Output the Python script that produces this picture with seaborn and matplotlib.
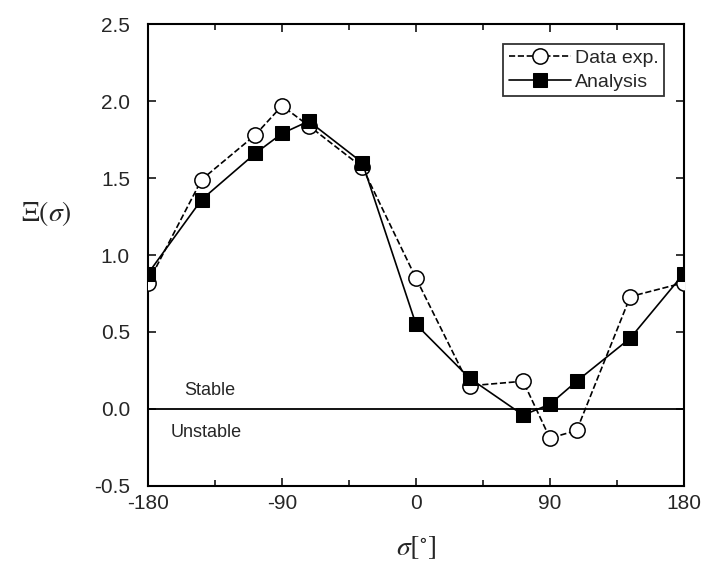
import numpy as np
import pandas as pd
import matplotlib
matplotlib.use("Agg")
import matplotlib.pyplot as plt
import seaborn as sns
from matplotlib.ticker import MultipleLocator, FormatStrFormatter

# data
sigma = [-180, -144, -108, -90, -72, -36, 0, 36, 72, 90, 108, 144, 180]
xi_exp = [0.82, 1.49, 1.78, 1.97, 1.84, 1.57, 0.85, 0.15, 0.18, -0.19, -0.14, 0.73, 0.82]
xi_analysis = [0.88, 1.36, 1.66, 1.79, 1.87, 1.60, 0.55, 0.20, -0.04, 0.03, 0.18, 0.46, 0.88]
x_ticks = [-180, -90, 0, 90, 180]
x_ticklabels = ["-180", "-90", "0", "90", "180"]

df_exp = pd.DataFrame({"sigma": sigma, "xi": xi_exp})
df_ana = pd.DataFrame({"sigma": sigma, "xi": xi_analysis})

sns.set_style("ticks")
plt.rcParams["font.family"] = ["Liberation Sans", "DejaVu Sans"]
plt.rcParams["mathtext.fontset"] = "stix"

fig = plt.figure(figsize=(7.05, 5.63), dpi=100)
ax = fig.add_axes([0.21, 0.137, 0.76, 0.820])

ax.axhline(0, color="black", lw=1.3, zorder=1)

sns.lineplot(data=df_exp, x="sigma", y="xi", ax=ax, color="black", lw=1.2,
             linestyle="--", marker="o", markersize=11, markerfacecolor="white",
             markeredgecolor="black", markeredgewidth=1.1, label="Data exp.",
             sort=False, zorder=3)
sns.lineplot(data=df_ana, x="sigma", y="xi", ax=ax, color="black", lw=1.2,
             marker="s", markersize=10, markerfacecolor="black",
             markeredgecolor="black", label="Analysis", sort=False, zorder=4)

ax.set_xlim(-180, 180)
ax.set_ylim(-0.5, 2.5)
ax.set_xticks(x_ticks)
ax.set_xticklabels(x_ticklabels)
ax.xaxis.set_minor_locator(MultipleLocator(45))
ax.yaxis.set_major_locator(MultipleLocator(0.5))
ax.yaxis.set_major_formatter(FormatStrFormatter("%.1f"))

ax.tick_params(which="both", direction="in", top=True, right=True,
               labelsize=15, width=1.3)
ax.tick_params(axis="x", pad=6)
ax.tick_params(axis="y", pad=13)
ax.tick_params(which="major", length=6)
ax.tick_params(which="minor", length=4)
for s in ax.spines.values():
    s.set_linewidth(1.5)
    s.set_color("black")

ax.text(-156, 0.12, "Stable", fontsize=13, ha="left", va="center")
ax.text(-165, -0.155, "Unstable", fontsize=13, ha="left", va="center")

ax.set_xlabel(r"$\sigma[^{\circ}]$", fontsize=20, va="center")
ax.xaxis.set_label_coords(0.5, -0.135)
ax.set_ylabel(r"$\Xi(\sigma)$", fontsize=20, rotation=0, va="center")
ax.yaxis.set_label_coords(-0.19, 0.59)

leg = ax.legend(loc="upper right", fontsize=14, handlelength=3.2,
                frameon=True, fancybox=False, edgecolor="black",
                borderaxespad=1.0, handletextpad=0.2, labelspacing=0.3,
                borderpad=0.3)
leg.get_frame().set_linewidth(1.3)

fig.savefig("out.png", dpi=100)
